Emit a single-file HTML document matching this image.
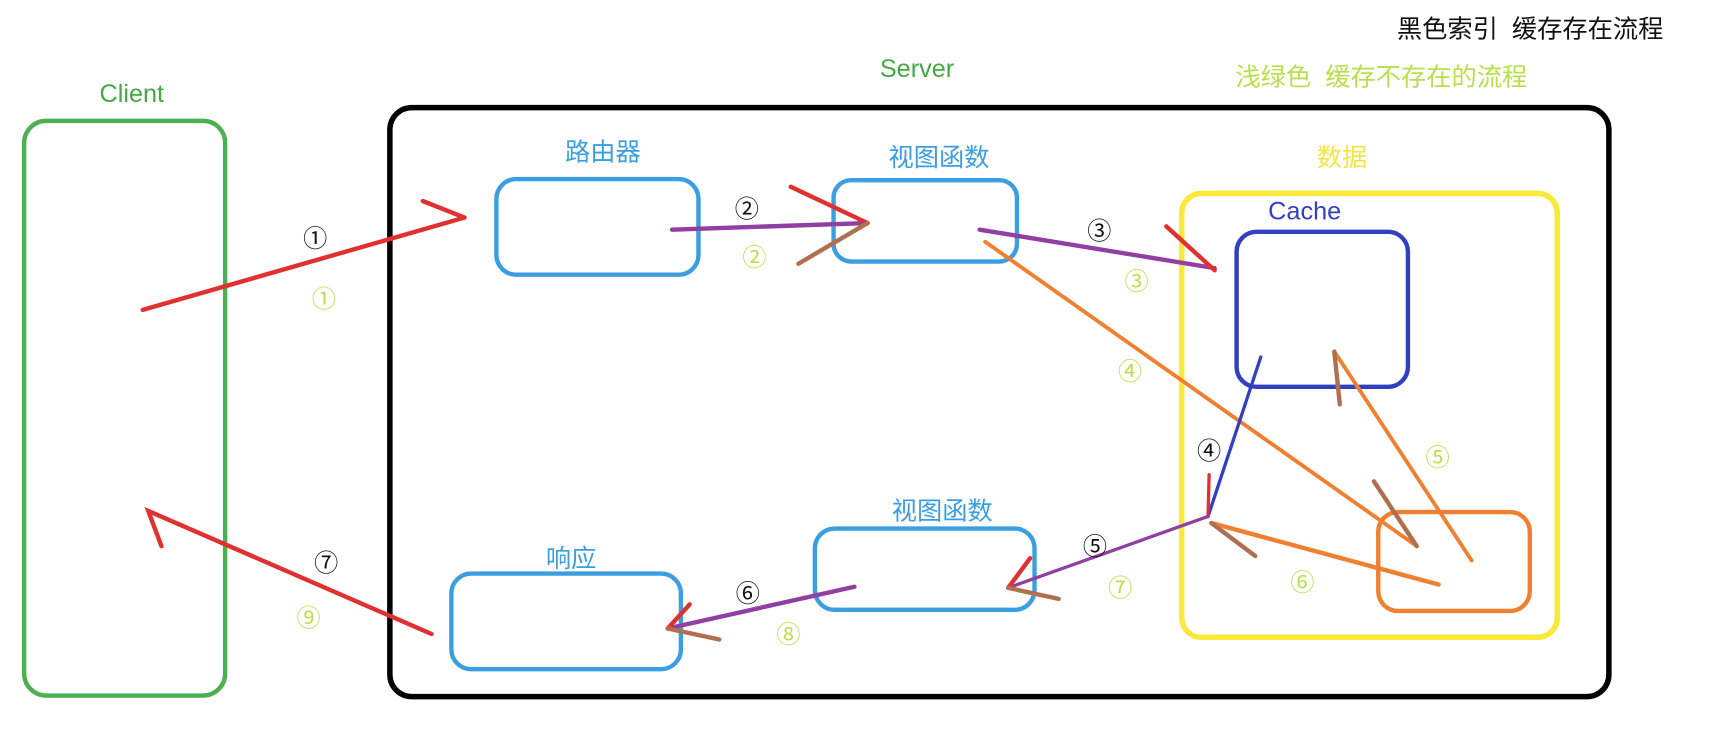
<!DOCTYPE html>
<html><head><meta charset="utf-8"><style>
html,body{margin:0;padding:0;background:#fff;width:1722px;height:734px;overflow:hidden}
svg{display:block}
text{font-family:"Liberation Sans","Noto Sans CJK SC",sans-serif}
</style></head><body>
<svg width="1722" height="734" viewBox="0 0 1568 668" preserveAspectRatio="none" xmlns="http://www.w3.org/2000/svg">
<rect width="1568" height="668" fill="#fff"/>
<g font-size="23">
<text x="1272" y="34" fill="#111">黑色索引 &#160;缓存存在流程</text>
<text x="835" y="70" fill="#45a845" text-anchor="middle">Server</text>
<text x="1125" y="78" fill="#b8e04c">浅绿色 &#160;缓存不存在的流程</text>
<text x="120" y="93" fill="#45a845" text-anchor="middle">Client</text>
<text x="549" y="146" fill="#3a9ee0" text-anchor="middle">路由器</text>
<text x="855" y="151" fill="#3a9ee0" text-anchor="middle">视图函数</text>
<text x="1222" y="151" fill="#f5e642" text-anchor="middle">数据</text>
<text x="1188" y="200" fill="#3040c0" text-anchor="middle">Cache</text>
<text x="858" y="473" fill="#3a9ee0" text-anchor="middle">视图函数</text>
<text x="520" y="516" fill="#3a9ee0" text-anchor="middle">响应</text>
</g>
<g fill="none" stroke-linejoin="round">
<rect x="22" y="110" width="183" height="523" rx="20" stroke="#4caf50" stroke-width="4"/>
<rect x="355" y="98" width="1110" height="536" rx="20" stroke="#000" stroke-width="5"/>
<rect x="452" y="163" width="184" height="87" rx="18" stroke="#3a9ee0" stroke-width="4"/>
<rect x="759" y="164" width="167" height="74" rx="16" stroke="#3a9ee0" stroke-width="4"/>
<rect x="1076" y="176" width="342" height="404" rx="18" stroke="#fbe93a" stroke-width="5"/>
<rect x="1126" y="211" width="156" height="141" rx="18" stroke="#3040c0" stroke-width="4"/>
<rect x="1255" y="466" width="138" height="90" rx="18" stroke="#f08030" stroke-width="4"/>
<rect x="742" y="481" width="200" height="74" rx="18" stroke="#3a9ee0" stroke-width="4"/>
<rect x="411" y="522" width="209" height="87" rx="18" stroke="#3a9ee0" stroke-width="4"/>
</g>
<g fill="none" stroke-linecap="round" stroke-width="4">
<path d="M130 282 L423 198 M385 183 L423 198" stroke="#e03030"/>
<path d="M612 209 L790 203" stroke="#9040a0"/>
<path d="M720 170 L790 203" stroke="#e03030"/>
<path d="M727 240 L790 203" stroke="#b07050"/>
<path d="M892 209 L1106 244" stroke="#9040a0"/>
<path d="M1062 206 L1106 246" stroke="#e03030"/>
<path d="M897 220 L1290 497" stroke="#f08030" stroke-width="3.5"/>
<path d="M1251 438 L1290 497" stroke="#b07050"/>
<path d="M1148 325 L1100 470" stroke="#3040c0" stroke-width="3"/>
<path d="M1101 432 L1100 470" stroke="#e03030" stroke-width="3"/>
<path d="M1100 470 L918 535" stroke="#9040a0" stroke-width="3"/>
<path d="M938 508 L918 535" stroke="#e03030"/>
<path d="M918 535 L964 545" stroke="#b07050"/>
<path d="M1310 532 L1103 476" stroke="#f08030"/>
<path d="M1103 476 L1143 506" stroke="#b07050"/>
<path d="M1340 510 L1215 320" stroke="#f08030" stroke-width="3.5"/>
<path d="M1215 320 L1220 368" stroke="#b07050"/>
<path d="M778 534 L608 572" stroke="#9040a0"/>
<path d="M628 550 L608 572" stroke="#e03030"/>
<path d="M608 572 L655 582" stroke="#b07050"/>
<path d="M393 577 L135 465 L147 497" stroke="#e03030"/>
</g>
<g font-size="22" text-anchor="middle">
<text x="287" y="225" fill="#111">①</text>
<text x="295" y="280" fill="#b8e04c">①</text>
<text x="680" y="198" fill="#111">②</text>
<text x="687" y="242" fill="#b8e04c">②</text>
<text x="1001" y="218" fill="#111">③</text>
<text x="1035" y="264" fill="#b8e04c">③</text>
<text x="1029" y="346" fill="#b8e04c">④</text>
<text x="1101" y="418" fill="#111">④</text>
<text x="1309" y="424" fill="#b8e04c">⑤</text>
<text x="997" y="505" fill="#111">⑤</text>
<text x="1020" y="543" fill="#b8e04c">⑦</text>
<text x="1186" y="538" fill="#b8e04c">⑥</text>
<text x="681" y="548" fill="#111">⑥</text>
<text x="718" y="585" fill="#b8e04c">⑧</text>
<text x="297" y="520" fill="#111">⑦</text>
<text x="281" y="570" fill="#b8e04c">⑨</text>
</g>
</svg>
</body></html>
